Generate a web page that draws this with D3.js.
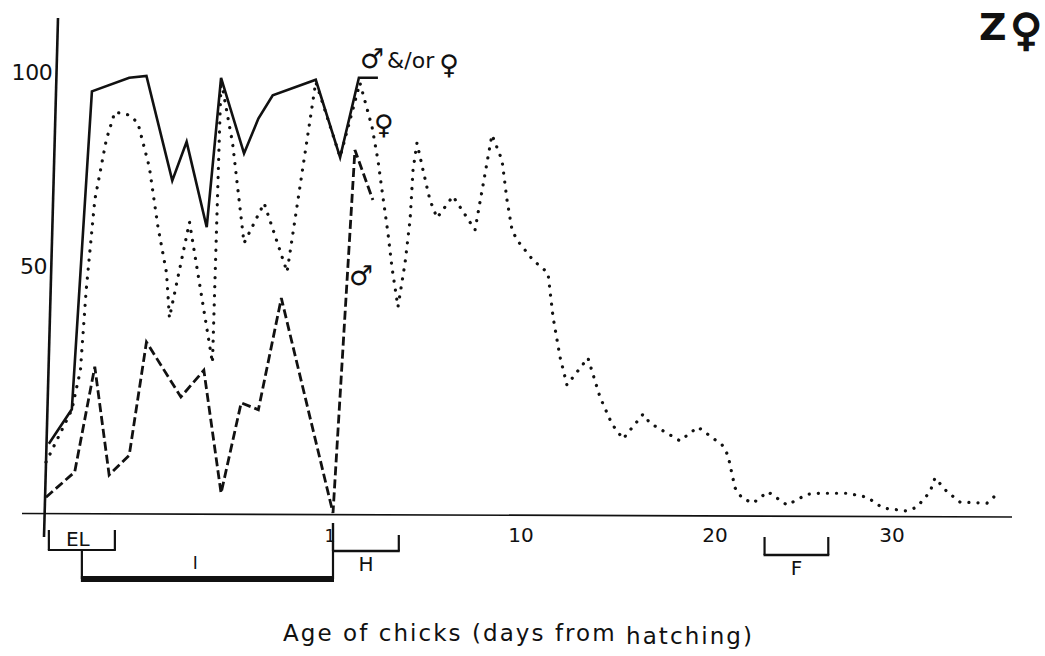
<!DOCTYPE html>
<html>
<head>
<meta charset="utf-8">
<script src="https://cdn.jsdelivr.net/npm/d3@7"></script>
<style>
  html, body { margin: 0; padding: 0; background: #fff; }
  svg { display: block; }
  text { fill: #111; font-family: "DejaVu Sans", "Liberation Sans", sans-serif; }
</style>
</head>
<body>
<svg id="chart" width="1045" height="656"></svg>
<script>
// Percentage of observations, by age of the chicks.
// x: 0..1 = pre-hatching period (egg laying, incubation), then days from hatching.

// Either parent (♂ &/or ♀) — solid line
const bothX = [0.01, 0.09, 0.16, 0.29, 0.35, 0.44, 0.49, 0.56, 0.61, 0.69, 0.74, 0.79, 0.94, 1.34, 2.24, 3.15];
const bothY = [14, 21, 95, 98.5, 99, 72, 82, 60, 98.5, 79, 88, 94, 98, 78, 98.5, 98.5];

// Female (♀) — dotted line
const femaleX = [0.00, 0.09, 0.12, 0.14, 0.17, 0.21, 0.24, 0.29, 0.32, 0.36, 0.39, 0.42, 0.43, 0.50, 0.58,
  0.61, 0.65, 0.69, 0.76, 0.84, 0.94, 1.34, 2.29, 2.87, 3.15, 3.39, 3.63, 3.82, 4.11, 4.45,
  4.69, 4.83, 5.02, 5.31, 5.64, 5.98, 6.74, 7.80, 8.61, 9.09, 9.33, 9.57, 9.81, 10.62, 11.39,
  11.65, 12.01, 12.37, 13.45, 14.07, 14.69, 15.26, 16.29, 16.65, 18.20, 19.12, 20.40, 20.73, 21.13, 21.53,
  22.15, 22.99, 24.07, 25.20, 25.93, 27.46, 28.59, 29.49, 30.85, 31.41, 32.15, 32.43, 33.11, 33.84, 35.37, 35.99];
const femaleY = [10.3, 20.9, 28.9, 45.1, 67.0, 82.5, 89.7, 88.9, 86.9, 75.5, 60.1, 48.6, 39.5, 61.3, 30.4,
  97.9, 81.7, 55.9, 66.2, 48.8, 97.4, 78.1, 97.2, 85.8, 77.3, 67.8, 58.5, 49.8, 41.7, 50.8,
  61.9, 74.7, 81.7, 74.7, 67.0, 62.4, 68.0, 59.3, 83.8, 77.3, 67.0, 59.3, 56.7, 51.5, 48.6,
  39.7, 31.6, 25.9, 31.4, 23.5, 18.0, 15.0, 20.0, 18.2, 14.6, 17.4, 13.8, 11.7, 5.1, 3.0,
  2.0, 4.3, 1.6, 3.8, 4.0, 4.0, 3.2, 1.0, 0.4, 1.2, 4.3, 7.1, 4.3, 2.2, 2.0, 4.0];

// Male (♂) — dashed line
const maleX = [0.00, 0.10, 0.17, 0.22, 0.29, 0.35, 0.47, 0.55, 0.61, 0.68, 0.74, 0.82, 1.00, 2.05, 2.91];
const maleY = [3.2, 8.3, 29.6, 7.7, 11.7, 34.6, 23.5, 28.9, 4.0, 22.3, 20.9, 43.5, 0, 79.9, 67.0];

// Axis tick labels
const yTicks = [100, 50];
const xTicks = [1, 10, 20, 30];

// Breeding phases under the axis
const phaseNames = ["EL", "I", "H", "F"];
const phaseStart = [0.01, 0.125, 1.0, 22.8];
const phaseEnd   = [0.24, 1.0, 4.15, 26.4];

const svg = d3.select("#chart");
const ink = "#111";

// Hand-drawn axes: pre-hatching period stretched, later days slightly compressed
const x = d3.scaleLinear().domain([0, 1, 10, 20, 30]).range([46, 333, 521, 715, 892]);
const y = d3.scaleLinear().domain([0, 50, 100]).range([513, 266, 72]);

const y0 = y(0);

// x axis
svg.append("line")
  .attr("x1", 22).attr("x2", 1012)
  .attr("y1", y0 + 0.5).attr("y2", y0 + 4)
  .attr("stroke", ink).attr("stroke-width", 1.7);

// y axis (slightly leaning)
const axTop = 18, axBot = y0 + 24;
const axX = yy => x(0) - 2 + 14 * (axBot - yy) / (axBot - axTop);
svg.append("line")
  .attr("x1", axX(axBot)).attr("y1", axBot)
  .attr("x2", axX(axTop)).attr("y2", axTop)
  .attr("stroke", ink).attr("stroke-width", 2.6);

// y tick labels
svg.selectAll(".ytick").data(yTicks).join("text")
  .attr("class", "ytick")
  .attr("x", d => axX(y(d)) - 4)
  .attr("y", d => y(d) + 8)
  .attr("text-anchor", "end")
  .attr("font-size", 22)
  .attr("letter-spacing", -0.3)
  .text(d => d);

// x tick labels
svg.selectAll(".xtick").data(xTicks).join("text")
  .attr("class", "xtick")
  .attr("x", d => x(d) + (d === 1 ? -3 : 0))
  .attr("y", y0 + 29)
  .attr("text-anchor", "middle")
  .attr("font-size", d => d === 1 ? 17 : 20)
  .text(d => d);

// series
const series = [
  { xs: bothX, ys: bothY, width: 2.6, dash: null, cap: "butt" },
  { xs: femaleX, ys: femaleY, width: 3.2, dash: "0.1 9", cap: "round" },
  { xs: maleX, ys: maleY, width: 2.8, dash: "9 4", cap: "butt" }
];

const line = d3.line().x(d => x(d[0])).y(d => y(d[1]));

series.forEach(s => {
  svg.append("path")
    .datum(d3.zip(s.xs, s.ys))
    .attr("d", line)
    .attr("fill", "none")
    .attr("stroke", ink)
    .attr("stroke-width", s.width)
    .attr("stroke-linejoin", "miter")
    .attr("stroke-linecap", s.cap)
    .attr("stroke-dasharray", s.dash);
});

// series labels
const bothEnd = bothX.length - 1;
const bothLabel = svg.append("text")
  .attr("x", x(bothX[bothEnd - 1]) + 1)
  .attr("y", y(bothY[bothEnd]) - 10)
  .attr("font-size", 22);
bothLabel.append("tspan").attr("font-size", 27).text("♂");
bothLabel.append("tspan").attr("dx", 3).text("&/or");
bothLabel.append("tspan").attr("dx", 5).attr("dy", 6).attr("font-size", 27).text("♀");

svg.append("text")
  .attr("x", x(femaleX[24]) - 4)
  .attr("y", y(femaleY[23]) + 7)
  .attr("font-size", 27)
  .text("♀");

svg.append("text")
  .attr("x", x(maleX[13]) - 6)
  .attr("y", y(maleY[13]) + 135)
  .attr("font-size", 27)
  .text("♂");

// phase brackets
const phaseRows = [
  { top: y0 + 17, bar: y0 + 37, w: 2, labelDy: -4 },    // EL
  { top: y0 + 37, bar: y0 + 66, w: 6, labelDy: -10 },   // I
  { top: y0 + 22, bar: y0 + 38, w: 2.4, labelDy: 20 },  // H
  { top: y0 + 24, bar: y0 + 42, w: 2.4, labelDy: 20 }   // F
];

phaseNames.forEach((name, i) => {
  const r = phaseRows[i];
  const xa = x(phaseStart[i]), xb = x(phaseEnd[i]);
  const g = svg.append("g");
  const rightTop = name === "I" ? y0 + 10 : r.top;
  const leftTop = name === "H" ? y0 + 10 : r.top;
  g.append("path")
    .attr("d", `M${xa},${leftTop} V${r.bar} M${xb},${rightTop} V${r.bar}`)
    .attr("stroke", ink).attr("stroke-width", 2.2).attr("fill", "none");
  g.append("line")
    .attr("x1", xa - 1).attr("x2", xb + 1)
    .attr("y1", r.bar).attr("y2", r.bar)
    .attr("stroke", ink).attr("stroke-width", r.w);
  g.append("text")
    .attr("x", name === "I" ? x(0.52) : (xa + xb) / 2 + (name === "EL" ? -4 : 0))
    .attr("y", r.bar + r.labelDy)
    .attr("text-anchor", "middle")
    .attr("font-size", name === "I" ? 17 : 20)
    .text(name);
});

// axis title
const title = svg.append("text")
  .attr("x", 283).attr("y", 641)
  .attr("font-size", 23)
  .attr("textLength", 469)
  .attr("lengthAdjust", "spacing");
title.append("tspan").text("Age of chicks (days from ");
title.append("tspan").attr("dy", 3).text("hatching)");

// panel mark
svg.append("text")
  .attr("x", 979).attr("y", 40)
  .attr("font-size", 38).attr("font-weight", "bold")
  .text("Z");
svg.append("text")
  .attr("x", 1010).attr("y", 45)
  .attr("font-size", 44).attr("font-weight", "bold")
  .attr("stroke", ink).attr("stroke-width", 1.4)
  .text("♀");
</script>
</body>
</html>
